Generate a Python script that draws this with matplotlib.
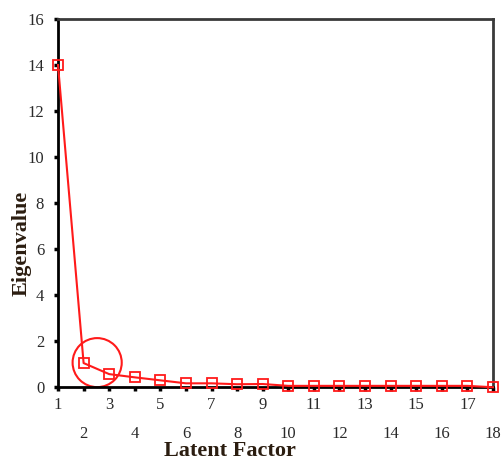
import matplotlib
matplotlib.use("Agg")
import matplotlib.pyplot as plt
from matplotlib.patches import Ellipse

factors = list(range(1, 19))
eigenvalues = [14.0, 1.05, 0.57, 0.43, 0.3, 0.17, 0.17, 0.13, 0.14, 0.06,
               0.06, 0.06, 0.06, 0.06, 0.06, 0.06, 0.06, 0.0]
y_ticks = [0, 2, 4, 6, 8, 10, 12, 14, 16]
x_tick_labels = [str(f) if f % 2 == 1 else "\n" + str(f) for f in factors]

plt.rcParams["font.family"] = ["Liberation Serif", "DejaVu Serif"]

fig = plt.figure(figsize=(5.01, 4.61), dpi=100)
ax = fig.add_axes([0.1158, 0.160, 0.8682, 0.7988])

ax.plot(factors, eigenvalues, color="#ff1a1a", linewidth=1.5,
        marker="s", markersize=7, markerfacecolor="none",
        markeredgecolor="#ff1a1a", markeredgewidth=1.3, clip_on=False, zorder=3)

# circle highlighting the elbow
ax.add_patch(Ellipse((2.53, 1.07), 1.92, 2.13, fill=False,
                     edgecolor="#ff1a1a", linewidth=1.5, clip_on=False))

ax.set_xlim(1, 18)
ax.set_ylim(0, 16)
ax.set_yticks(y_ticks)
ax.set_xticks(factors)
ax.set_xticklabels(x_tick_labels, linespacing=2.1)
ax.tick_params(axis="both", direction="out", length=3, width=2.5,
               labelsize=12, colors="black", labelcolor="#2a2a2a")
ax.tick_params(axis="x", pad=4)
ax.tick_params(axis="y", pad=7)

for side in ["left", "bottom"]:
    ax.spines[side].set_linewidth(2)
    ax.spines[side].set_color("black")
for side in ["top", "right"]:
    ax.spines[side].set_linewidth(2)
    ax.spines[side].set_color("#3a3a3a")

ax.set_xlabel("Latent Factor", fontsize=16, fontweight="bold", color="#2b1d10",
              va="center")
ax.set_ylabel("Eigenvalue", fontsize=16, fontweight="bold", color="#2b1d10",
              va="center")
ax.xaxis.set_label_coords(0.395, -0.172)
ax.yaxis.set_label_coords(-0.083, 0.39)

fig.savefig("out.png", dpi=100)
